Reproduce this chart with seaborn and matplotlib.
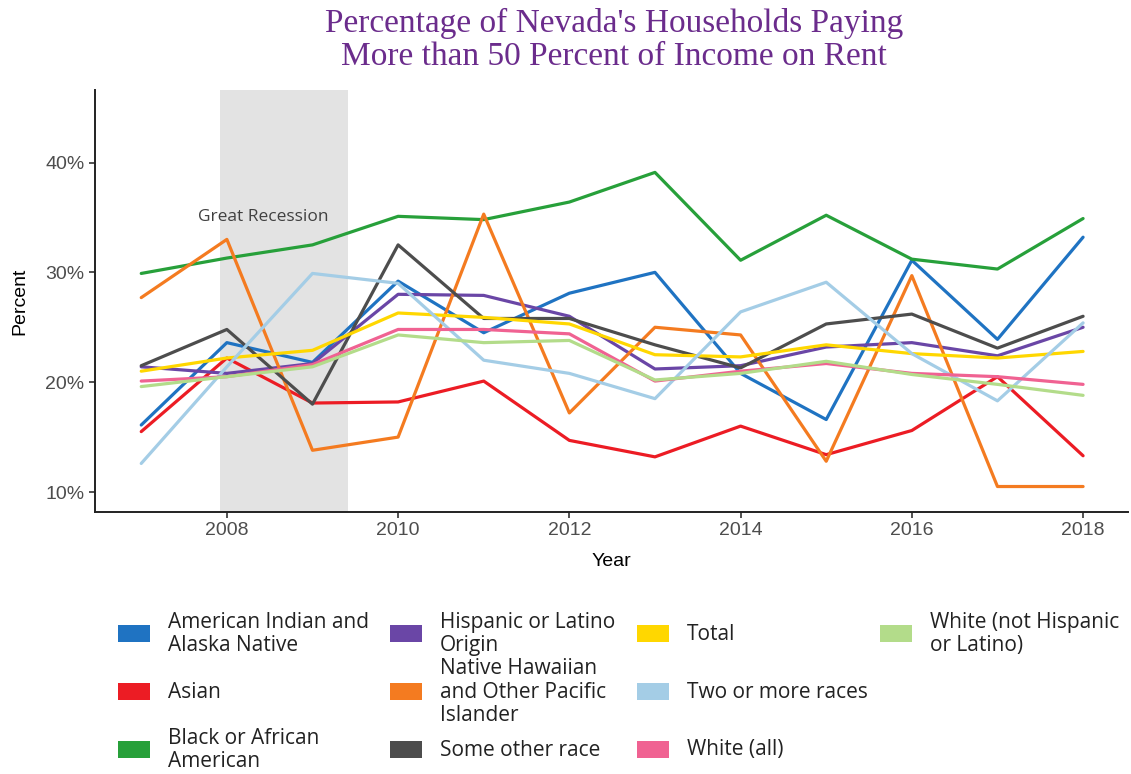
import matplotlib
matplotlib.use("Agg")
import matplotlib.pyplot as plt
import matplotlib.patches as mpatches
import matplotlib.ticker as mticker
import pandas as pd
import seaborn as sns

YEARS = list(range(2007, 2019))

AIAN = [16.1, 23.6, 21.8, 29.2, 24.5, 28.1, 30.0, 20.8, 16.6, 31.1, 23.9, 33.2]
ASIAN = [15.5, 22.2, 18.1, 18.2, 20.1, 14.7, 13.2, 16.0, 13.4, 15.6, 20.5, 13.3]
BLACK = [29.9, 31.3, 32.5, 35.1, 34.8, 36.4, 39.1, 31.1, 35.2, 31.2, 30.3, 34.9]
HISPANIC = [21.4, 20.8, 21.7, 28.0, 27.9, 26.0, 21.2, 21.5, 23.2, 23.6, 22.4, 25.0]
NHPI = [27.7, 33.0, 13.8, 15.0, 35.3, 17.2, 25.0, 24.3, 12.8, 29.7, 10.5, 10.5]
OTHER = [21.5, 24.8, 18.0, 32.5, 25.8, 25.8, 23.4, 21.3, 25.3, 26.2, 23.1, 26.0]
TOTAL = [21.0, 22.2, 22.9, 26.3, 25.9, 25.3, 22.5, 22.3, 23.4, 22.6, 22.2, 22.8]
TWO_PLUS = [12.6, 21.4, 29.9, 29.0, 22.0, 20.8, 18.5, 26.4, 29.1, 22.6, 18.3, 25.4]
WHITE_ALL = [20.1, 20.5, 21.6, 24.8, 24.8, 24.4, 20.1, 21.0, 21.7, 20.8, 20.5, 19.8]
WHITE_NH = [19.6, 20.5, 21.4, 24.3, 23.6, 23.8, 20.2, 20.8, 21.9, 20.7, 19.8, 18.8]

SERIES = {
    "American Indian and\nAlaska Native": AIAN,
    "Asian": ASIAN,
    "Black or African\nAmerican": BLACK,
    "Hispanic or Latino\nOrigin": HISPANIC,
    "Native Hawaiian\nand Other Pacific\nIslander": NHPI,
    "Some other race": OTHER,
    "Total": TOTAL,
    "Two or more races": TWO_PLUS,
    "White (all)": WHITE_ALL,
    "White (not Hispanic\nor Latino)": WHITE_NH,
}
COLORS = [
    "#1f73c2", "#ec1c24", "#27a03a", "#6a46a6", "#f47b20",
    "#4d4d4d", "#ffd700", "#a4cde6", "#f06292", "#b3dc8a",
]
RECESSION = (2007.92, 2009.42)

rows = []
for name, vals in SERIES.items():
    for yr, v in zip(YEARS, vals):
        rows.append({"Year": yr, "Percent": v, "group": name})
df = pd.DataFrame(rows)
palette = dict(zip(SERIES.keys(), COLORS))

sns.set_theme(style="ticks")
plt.rcParams["font.family"] = ["Liberation Sans", "DejaVu Sans"]

fig = plt.figure(figsize=(11.31, 7.74), dpi=100)
ax = fig.add_axes([0.084, 0.3385, 0.913, 0.5452])

ax.axvspan(*RECESSION, color="#e3e3e3", lw=0, zorder=0)
ax.text(2008.42, 35.0, "Great Recession", ha="center", va="center",
        fontsize=12.5, color="#404040", family=["Open Sans", "DejaVu Sans"])

sns.lineplot(data=df, x="Year", y="Percent", hue="group", palette=palette,
             hue_order=list(SERIES.keys()), linewidth=2.3, legend=False, ax=ax)

ax.set_xlim(2006.46, 2018.52)
ax.set_ylim(8.18, 46.6)
ax.set_xticks([2008, 2010, 2012, 2014, 2016, 2018])
ax.set_yticks([10, 20, 30, 40])
ax.yaxis.set_major_formatter(mticker.FuncFormatter(lambda v, p: f"{v:.0f}%"))
ax.tick_params(labelsize=14, labelcolor="#4d4d4d", length=4, width=1.2,
               color="#333333")
ax.set_xlabel("Year", fontsize=14, color="black", labelpad=10)
ax.set_ylabel("Percent", fontsize=14, color="black", labelpad=12)
for s in ("top", "right"):
    ax.spines[s].set_visible(False)
for s in ("left", "bottom"):
    ax.spines[s].set_linewidth(1.4)
    ax.spines[s].set_color("#222222")

fig.text(0.543, 0.99, "Percentage of Nevada's Households Paying\nMore than 50 Percent of Income on Rent",
         ha="center", va="top", fontsize=24, color="#6b2c8c",
         family=["Liberation Serif", "DejaVu Serif"], linespacing=1.12)

# legend laid out as a grid, column-major like the original
col_x = [118, 390, 637, 880]
row_y = [634, 692, 750]
W, H = 1131, 774
names = list(SERIES.keys())
for i, name in enumerate(names):
    c, r = divmod(i, 3)
    px, py = col_x[c], row_y[r]
    fig.patches.append(mpatches.Rectangle(
        (px / W, 1 - (py + 8) / H), 32 / W, 17 / H,
        transform=fig.transFigure, color=palette[name], lw=0))
    fig.text((px + 50) / W, 1 - py / H, name, ha="left", va="center",
             fontsize=15, color="#222222", linespacing=1.15,
             family=["Open Sans", "DejaVu Sans"])

fig.savefig("out.png", dpi=100)
